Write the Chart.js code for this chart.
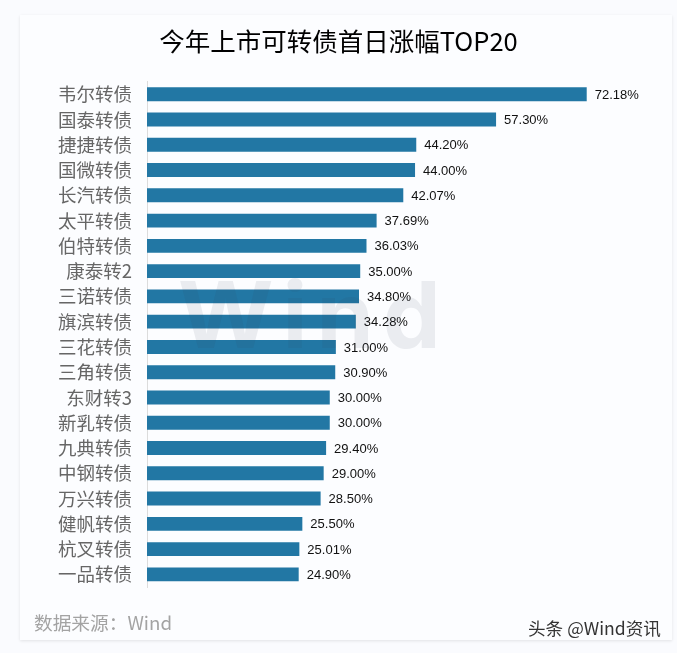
<!DOCTYPE html>
<html>
<head>
<meta charset="utf-8">
<style>
    html, body { margin: 0; padding: 0; background: #fafbfe; }
    #wrap { position: relative; width: 677px; height: 653px; overflow: hidden; }
    #card { position: absolute; left: 20px; top: 15px; width: 652px; height: 625px; background: #fcfdff;
        box-shadow: 0 1px 3px rgba(0, 0, 0, 0.10); }
    #chartBox { position: absolute; left: 0; top: 0; width: 677px; height: 653px; }
    #mark { position: absolute; left: 178px; top: 250px; font: bold 92px Inter, "Liberation Sans", sans-serif;
        letter-spacing: 9px; color: rgba(60, 70, 90, 0.09); line-height: 130px; }
    #source { position: absolute; left: 34px; top: 610px; font: 18.7px "Noto Sans CJK SC", sans-serif; color: #a3a3a3; line-height: 24px; }
    #stamp { position: absolute; left: 528px; top: 617px; font: 17.6px "Noto Sans CJK SC", sans-serif; color: #333; line-height: 22px; white-space: nowrap; }
</style>
</head>
<body>
<div id="wrap">
    <div id="card"></div>
    <div id="chartBox"><canvas id="myChart" width="677" height="653"></canvas></div>
    <div id="mark">Wind</div>
    <div id="source">数据来源：Wind</div>
    <div id="stamp">头条 @Wind资讯</div>
</div>
<script src="https://cdn.jsdelivr.net/npm/chart.js@4"></script>
<script>
    const bondNames = ['韦尔转债', '国泰转债', '捷捷转债', '国微转债', '长汽转债', '太平转债', '伯特转债', '康泰转2', '三诺转债', '旗滨转债',
        '三花转债', '三角转债', '东财转3', '新乳转债', '九典转债', '中钢转债', '万兴转债', '健帆转债', '杭叉转债', '一品转债'];
    const firstDayGain = [72.18, 57.30, 44.20, 44.00, 42.07, 37.69, 36.03, 35.00, 34.80, 34.28,
        31.00, 30.90, 30.00, 30.00, 29.40, 29.00, 28.50, 25.50, 25.01, 24.90];
    const chartTitle = '今年上市可转债首日涨幅TOP20';

    /*Percent labels at the end of each bar*/
    const barLabels = {
        id: 'barLabels',
        afterDatasetsDraw(chart) {
            const ctx = chart.ctx;
            ctx.save();
            ctx.font = '13px "Liberation Sans", sans-serif';
            ctx.fillStyle = '#111';
            ctx.textBaseline = 'middle';
            chart.getDatasetMeta(0).data.forEach(function (bar, i) {
                ctx.fillText(firstDayGain[i].toFixed(2) + '%', bar.x + 8, bar.y + 1);
            });
            ctx.restore();
        }
    };

    new Chart(document.getElementById('myChart').getContext('2d'), {
        type: 'bar',
        data: {
            labels: bondNames,
            datasets: [{
                data: firstDayGain,
                backgroundColor: '#2277a4',
                categoryPercentage: 1,
                barPercentage: 0.55
            }]
        },
        options: {
            indexAxis: 'y',
            responsive: false,
            animation: false,
            layout: { padding: { top: 26, right: 0, bottom: 66, left: 0 } },
            plugins: {
                legend: { display: false },
                tooltip: { enabled: false },
                title: {
                    display: true,
                    text: chartTitle,
                    color: '#000',
                    font: { family: '"Noto Sans CJK SC"', size: 25.5, weight: 'normal' },
                    padding: { top: 0, bottom: 25 }
                }
            },
            scales: {
                // right edge of the plot is the canvas edge, so the title stays centred
                x: { min: 0, max: 87, display: false },
                y: {
                    afterFit(axis) { axis.width = 147; },
                    grid: { display: false },
                    border: { color: '#dcdcdc' },
                    ticks: {
                        color: '#666',
                        padding: 7,
                        autoSkip: false,
                        font: { family: '"Noto Sans CJK SC"', size: 18.5 }
                    }
                }
            }
        },
        plugins: [barLabels]
    });
</script>
</body>
</html>
